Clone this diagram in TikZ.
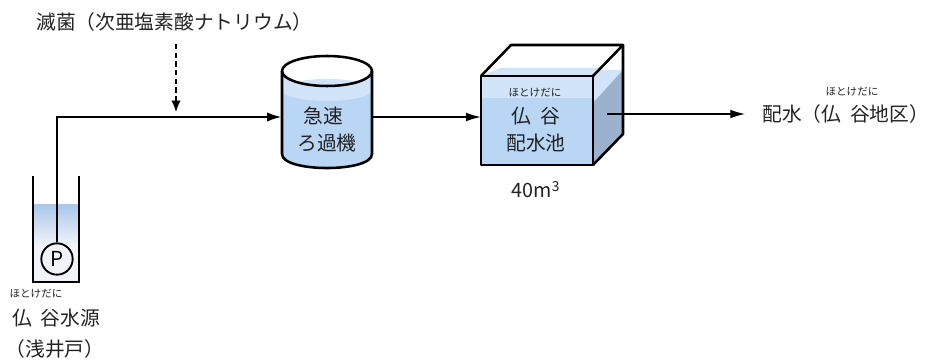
\documentclass[tikz,border=0pt]{standalone}
\usepackage{fontspec}
\setmainfont{Noto Sans CJK JP}
\usetikzlibrary{arrows.meta}
\definecolor{ink}{HTML}{222222}
\definecolor{wellTop}{HTML}{A9C6E9}
\definecolor{wellMid}{HTML}{EDF1F8}
\definecolor{wellLow}{HTML}{F0F3F9}
\definecolor{waterLight}{HTML}{D2E4FA}
\definecolor{waterBody}{HTML}{BAD6F5}
\definecolor{waterSide}{HTML}{9BB2CF}
\tikzset{
  pipeline/.style={line width=1.7pt,-{Latex[length=11pt,width=7pt]}},
  flowarrow/.style={line width=0.9pt,-{Latex[length=11pt,width=6.5pt]}},
  dosing/.style={line width=1pt,dash pattern=on 4pt off 2.5pt,-{Latex[length=8.5pt,width=7pt]}},
  tankline/.style={line width=1.9pt,line join=round},
  lbl/.style={inner sep=0pt,font=\fontsize{14.8}{17}\selectfont,text=ink},
  ruby/.style={inner sep=0pt,font=\fontsize{7.9}{9}\selectfont,text=ink},
  anchorbox/.style={inner sep=0pt,draw=none}
}
\begin{document}
\begin{tikzpicture}[x=0.75pt,y=-0.75pt]
\useasboundingbox (0,0) rectangle (933,360);

% --- well with submerged pump ---
\shade[top color=wellTop,bottom color=wellMid] (33,204) rectangle (79,243);
\fill[wellLow] (33,243) rectangle (79,282);
\draw[line width=1.5pt] (33,176) -- (33,282) -- (79,282) -- (79,176);
\node[circle,draw,line width=1.4pt,minimum size=23.5pt,inner sep=0pt,
      font=\fontsize{15.5}{15.5}\selectfont] (pump) at (57,259) {P};

% --- rapid filter (cylinder) ---
\fill[waterBody] (282,71) rectangle (372,154);
\fill[waterBody] (282,154) .. controls (282,172.7) and (372,172.7) .. (372,154) -- cycle;
\fill[waterLight] (282,71) rectangle (372,90);
\fill[white] (327,71) ellipse [x radius=45, y radius=15];
\fill[waterLight] (327,90) ellipse [x radius=45, y radius=11];
\draw[tankline] (327,71) ellipse [x radius=45, y radius=15];
\draw[tankline] (282,71) -- (282,154) .. controls (282,172.7) and (372,172.7) .. (372,154) -- (372,71);
\node[anchorbox,minimum width=67.5pt,minimum height=60pt] (filter) at (327,117) {};

% --- distribution reservoir (box) ---
\fill[white] (481,76) -- (511,45) -- (623,45) -- (593,76) -- cycle;
\fill[waterLight] (481,76) -- (500,68) -- (601,68) -- (593,76) -- cycle;
\fill[waterLight] (481,76) rectangle (593,98);
\fill[waterBody] (481,98) rectangle (593,165);
\fill[white] (593,76) -- (623,45) -- (623,134) -- (593,165) -- cycle;
\fill[waterLight] (593,76) -- (599,70) -- (623,70) -- (623,134) -- (593,165) -- cycle;
\fill[waterSide] (593,103) -- (623,70) -- (623,134) -- (593,165) -- cycle;
\draw[tankline] (481,76) rectangle (593,165);
\draw[tankline] (481,76) -- (511,45) -- (623,45) -- (593,76);
\draw[tankline] (623,45) -- (623,134) -- (593,165);
\node[anchorbox,minimum width=84pt,minimum height=66.75pt] (tank) at (537,120.5) {};
\coordinate (tankout) at (607,114);

% --- labels ---
\node[lbl,anchor=base west] (title) at (36,29.5) {滅菌（次亜塩素酸ナトリウム）};
\node[ruby,anchor=base] (wellruby) at (36,297.5) {ほとけだに};
\node[lbl,anchor=base west] (wellname) at (12,325.5) {仏\hspace{0.45em}谷水源};
\node[lbl,anchor=base] (welltype) at (55,356.5) {（浅井戸）};
\node[lbl,anchor=base] (filterA) at (323,123.5) {急速};
\node[lbl,anchor=base] (filterB) at (327,150.5) {ろ過機};
\node[ruby,anchor=base] (tankruby) at (535,96.5) {ほとけだに};
\node[lbl,anchor=base] (tankA) at (536,123.5) {仏\hspace{0.45em}谷};
\node[lbl,anchor=base] (tankB) at (536,150.5) {配水池};
\node[lbl,anchor=base] (capacity) at (536,198) {40m\textsuperscript{3}};
\node[ruby,anchor=base] (distruby) at (852,96) {ほとけだに};
\node[lbl,anchor=base west,inner xsep=12.75pt] (dist) at (745,121.5) {配水（仏\hspace{0.45em}谷地区）};

% --- connectors ---
\coordinate (dosetop) at (176,44);
\coordinate (dose) at (176,112);
\draw[dosing] (dosetop) -- (dose);
\draw[pipeline] (pump.north) |- (filter.west);
\draw[flowarrow] (filter.east) -- (filter.east -| tank.west);
\draw[flowarrow] (tankout) -- (tankout -| dist.west);
\end{tikzpicture}
\end{document}
